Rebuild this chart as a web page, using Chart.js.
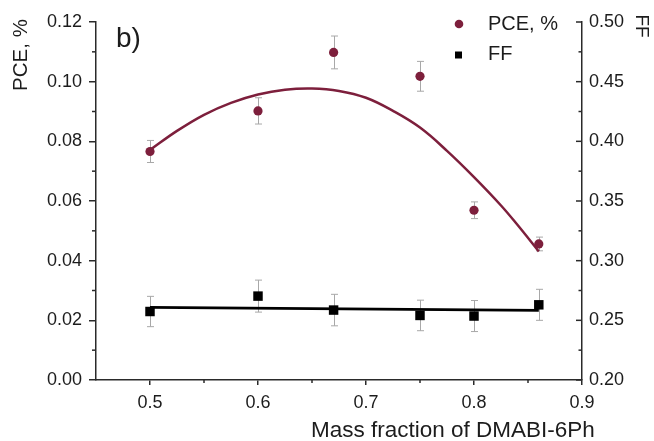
<!DOCTYPE html>
<html><head><meta charset="utf-8">
<script src="https://cdn.jsdelivr.net/npm/chart.js@4.4.1/dist/chart.umd.min.js"></script>
<style>html,body{margin:0;padding:0;background:#fff;}canvas{display:block;}</style>
</head><body>
<canvas id="c" width="654" height="441"></canvas>
<script>
// ---- data ----
const massFraction = [0.5, 0.6, 0.67, 0.75, 0.8, 0.86];
const pceValues = [0.0766, 0.0902, 0.1098, 0.1018, 0.0569, 0.0456];
const pceErrors = [0.0037, 0.0044, 0.0055, 0.0050, 0.0028, 0.0023];
const ffValues = [0.2574, 0.2703, 0.2586, 0.2541, 0.2536, 0.2630];
const ffErrors = [0.0127, 0.0134, 0.0132, 0.0128, 0.0130, 0.0130];
const pceFitX = [0.5, 0.525, 0.55, 0.575, 0.6, 0.625, 0.65, 0.675, 0.7, 0.725, 0.75, 0.775, 0.8, 0.825, 0.84, 0.86];
const pceFitY = [0.0771, 0.0835, 0.0889, 0.0929, 0.0957, 0.0973, 0.0977, 0.0969, 0.0946, 0.0902, 0.0846, 0.0768, 0.0680, 0.0585, 0.0521, 0.0431];
const ffFitX = [0.5, 0.86];
const ffFitY = [0.2608, 0.2583];
const xTicks = [0.5, 0.6, 0.7, 0.8, 0.9];
const xMinorTicks = [0.55, 0.65, 0.75, 0.85];
const pceTicks = [0, 0.02, 0.04, 0.06, 0.08, 0.10, 0.12];
const pceMinorTicks = [0.01, 0.03, 0.05, 0.07, 0.09, 0.11];
const ffTicks = [0.20, 0.25, 0.30, 0.35, 0.40, 0.45, 0.50];
const ffMinorTicks = [0.225, 0.275, 0.325, 0.375, 0.425, 0.475];
const seriesNames = ['PCE, %', 'FF'];
const xTitle = 'Mass fraction of DMABI-6Ph';
const panelLabel = 'b)';

const maroon = '#7d1f3c';
const axisColor = '#2a2a2a';
const textColor = '#1c1c1c';
const FONT = '"Liberation Sans", Arial, Helvetica, sans-serif';

const pts = (xs, ys) => xs.map((v, i) => ({x: v, y: ys[i]}));

const decor = {
  id: 'decor',
  beforeDatasetsDraw(chart) {
    const {ctx, scales: {x, y, y1}} = chart;
    ctx.save();
    ctx.strokeStyle = '#a8a8a8';
    ctx.lineWidth = 1;
    const bar = (xv, v, e, sc) => {
      const px = Math.round(x.getPixelForValue(xv)) + 0.5;
      const top = sc.getPixelForValue(v + e), bot = sc.getPixelForValue(v - e);
      ctx.beginPath();
      ctx.moveTo(px, top); ctx.lineTo(px, bot);
      ctx.moveTo(px - 3.5, top); ctx.lineTo(px + 3.5, top);
      ctx.moveTo(px - 3.5, bot); ctx.lineTo(px + 3.5, bot);
      ctx.stroke();
    };
    massFraction.forEach((m, i) => {
      bar(m, pceValues[i], pceErrors[i], y);
      bar(m, ffValues[i], ffErrors[i], y1);
    });
    ctx.restore();
  },
  afterDraw(chart) {
    const {ctx, scales: {x, y, y1}} = chart;
    ctx.save();
    ctx.strokeStyle = axisColor;
    ctx.lineWidth = 1.5;
    const seg = (a, b, c, d) => { ctx.beginPath(); ctx.moveTo(a, b); ctx.lineTo(c, d); ctx.stroke(); };
    xMinorTicks.forEach(v => { const p = x.getPixelForValue(v); seg(p, x.top, p, x.top + 3); });
    pceMinorTicks.forEach(v => { const p = y.getPixelForValue(v); seg(y.right - 4, p, y.right, p); });
    ffTicks.forEach(v => { const p = y1.getPixelForValue(v); seg(y1.left - 6, p, y1.left, p); });
    ffMinorTicks.forEach(v => { const p = y1.getPixelForValue(v); seg(y1.left - 3.5, p, y1.left, p); });

    ctx.fillStyle = textColor;
    // left axis title
    ctx.save();
    ctx.translate(21, 55);
    ctx.rotate(-Math.PI / 2);
    ctx.font = '20.5px ' + FONT;
    ctx.textAlign = 'center';
    ctx.textBaseline = 'middle';
    ctx.fillText(seriesNames[0], 0, 0);
    ctx.restore();
    // right axis title
    ctx.save();
    ctx.translate(641, 26);
    ctx.rotate(Math.PI / 2);
    ctx.font = '19px ' + FONT;
    ctx.textAlign = 'center';
    ctx.textBaseline = 'middle';
    ctx.fillText(seriesNames[1], 0, 0);
    ctx.restore();
    // x title
    ctx.font = '22.5px ' + FONT;
    ctx.textAlign = 'left';
    ctx.textBaseline = 'alphabetic';
    ctx.fillText(xTitle, 311, 437);
    // panel label
    ctx.font = '28px ' + FONT;
    ctx.fillText(panelLabel, 116, 47);
    // legend
    const ds = chart.data.datasets;
    ctx.fillStyle = ds[0].backgroundColor;
    ctx.beginPath(); ctx.arc(459, 24, 4.3, 0, Math.PI * 2); ctx.fill();
    ctx.fillStyle = ds[1].backgroundColor;
    ctx.fillRect(455, 51.5, 7, 7);
    ctx.fillStyle = textColor;
    ctx.font = '20px ' + FONT;
    ctx.fillText(ds[0].label, 488, 30);
    ctx.fillText(ds[1].label, 488, 60);
    ctx.restore();
  }
};

const tickFont = {family: FONT, size: 18};

new Chart(document.getElementById('c'), {
  type: 'scatter',
  data: {
    datasets: [
      {label: seriesNames[0], data: pts(massFraction, pceValues), yAxisID: 'y',
       pointStyle: 'circle', pointRadius: 4.6, backgroundColor: maroon, borderColor: maroon, borderWidth: 0, showLine: false},
      {label: seriesNames[1], data: pts(massFraction, ffValues), yAxisID: 'y1',
       pointStyle: 'rect', pointRadius: 6.7, backgroundColor: '#000', borderColor: '#000', borderWidth: 0, showLine: false},
      {label: 'PCE fit', data: pts(pceFitX, pceFitY), yAxisID: 'y', showLine: true,
       pointRadius: 0, borderColor: maroon, borderWidth: 2.5, tension: 0.4, fill: false},
      {label: 'FF fit', data: pts(ffFitX, ffFitY), yAxisID: 'y1', showLine: true,
       pointRadius: 0, borderColor: '#000', borderWidth: 2.7, tension: 0, fill: false}
    ]
  },
  options: {
    responsive: false,
    animation: false,
    devicePixelRatio: 1,
    layout: {padding: {top: 22, left: 0, right: 0, bottom: 0}},
    plugins: {legend: {display: false}, tooltip: {enabled: false}},
    scales: {
      x: {
        type: 'linear', position: 'bottom', min: 0.45, max: 0.9,
        afterBuildTicks: s => { s.ticks = xTicks.map(v => ({value: v})); },
        afterFit: s => { s.height = 61; },
        ticks: {font: tickFont, color: textColor, padding: 7, maxRotation: 0, callback: v => String(v)},
        grid: {display: true, drawOnChartArea: false, drawTicks: true, tickLength: 5, color: axisColor, lineWidth: 1.5},
        border: {display: true, color: axisColor, width: 1.5}
      },
      y: {
        type: 'linear', position: 'left', min: 0, max: 0.12,
        afterBuildTicks: s => { s.ticks = pceTicks.map(v => ({value: v})); },
        afterFit: s => { s.width = 96; },
        ticks: {font: tickFont, color: textColor, padding: 7, callback: v => Number(v).toFixed(2)},
        grid: {display: true, drawOnChartArea: false, drawTicks: true, tickLength: 7, color: axisColor, lineWidth: 1.5},
        border: {display: true, color: axisColor, width: 1.5}
      },
      y1: {
        type: 'linear', position: 'right', min: 0.2, max: 0.5,
        afterBuildTicks: s => { s.ticks = ffTicks.map(v => ({value: v})); },
        afterFit: s => { s.width = 72; },
        ticks: {font: tickFont, color: textColor, padding: 7, callback: v => Number(v).toFixed(2)},
        grid: {display: true, drawOnChartArea: false, drawTicks: false, color: axisColor, lineWidth: 1.5},
        border: {display: true, color: axisColor, width: 1.5}
      }
    }
  },
  plugins: [decor]
});
</script>
</body></html>
